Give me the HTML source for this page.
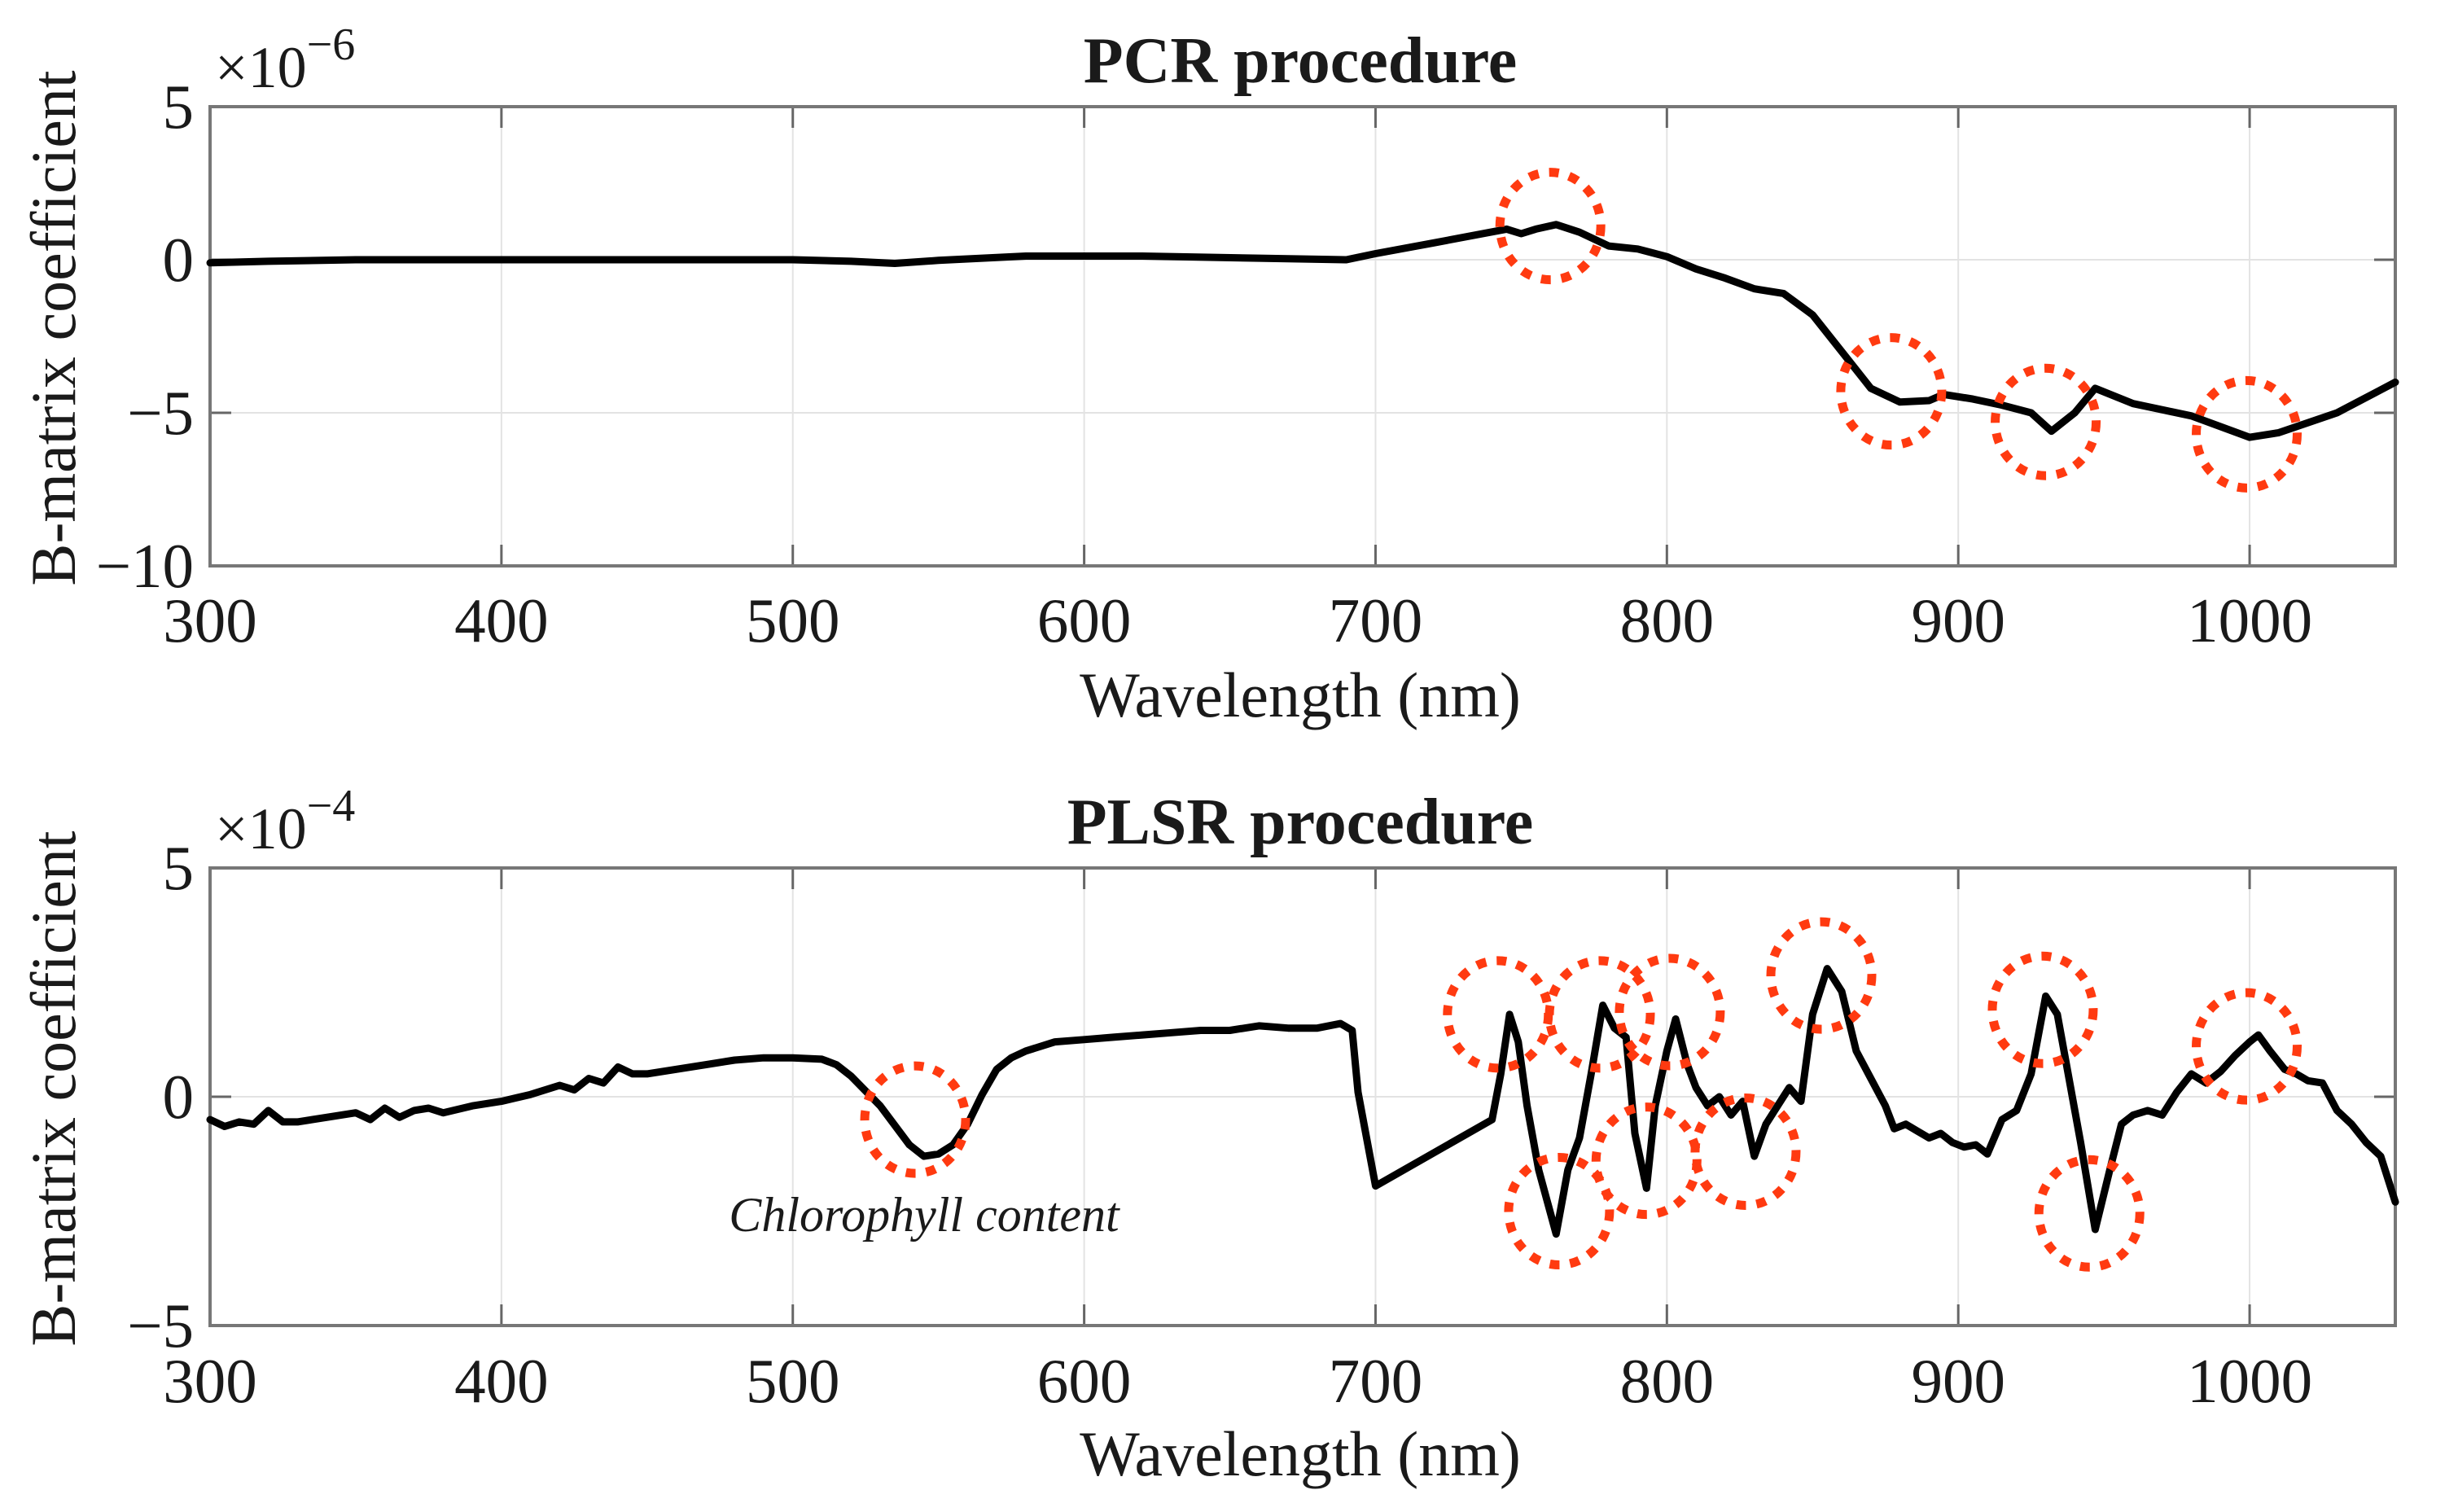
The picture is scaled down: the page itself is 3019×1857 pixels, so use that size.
<!DOCTYPE html>
<html><head><meta charset="utf-8">
<style>
html,body{margin:0;padding:0;background:#fff;}
svg{display:block;}
text{font-family:"Liberation Serif",serif;fill:#1a1a1a;}
</style></head>
<body>
<svg id="chart" width="3019" height="1857" viewBox="0 0 3019 1857" xmlns="http://www.w3.org/2000/svg"></svg>
<script>
// ---- data ----
const xTicks = [300,400,500,600,700,800,900,1000];
const pcrYTicks = [5,0,-5,-10];
const plsrYTicks = [5,0,-5];
const pcrWave = [300,320,350,400,450,500,520,535,550,580,620,660,690,700,720,745,750,755,762,770,780,790,800,810,820,830,840,850,860,870,880,890,895,905,915,925,932,940,947,960,980,1000,1010,1030,1050];
const pcrVal  = [-0.1,-0.05,0,0,0,0,-0.05,-0.12,-0.02,0.12,0.12,0.05,0.0,0.2,0.55,1.0,0.85,1.0,1.15,0.9,0.45,0.35,0.1,-0.3,-0.6,-0.95,-1.1,-1.8,-3.0,-4.2,-4.65,-4.6,-4.4,-4.55,-4.75,-5.0,-5.6,-5.0,-4.2,-4.7,-5.1,-5.8,-5.65,-5.0,-4.0];
const plsrWave = [300,305,310,315,320,325,330,340,350,355,360,365,370,375,380,390,400,410,420,425,430,435,440,445,450,460,470,480,490,500,510,515,520,530,540,545,550,555,560,565,570,575,580,590,600,610,620,630,640,650,660,670,680,688,692,694,700,740,743,746,749,752,756,762,766,770,774,778,782,786,789,793,796,800,803,807,810,814,818,822,826,830,834,838,842,846,850,855,860,865,870,875,878,882,886,890,894,898,902,906,910,915,920,925,930,934,938,942,947,952,956,960,965,970,975,980,985,990,995,1000,1003,1007,1012,1016,1020,1025,1030,1035,1040,1045,1050];
const plsrVal  = [-0.5,-0.65,-0.55,-0.6,-0.3,-0.55,-0.55,-0.45,-0.35,-0.5,-0.25,-0.45,-0.3,-0.25,-0.35,-0.2,-0.1,0.05,0.25,0.15,0.4,0.3,0.65,0.5,0.5,0.6,0.7,0.8,0.85,0.85,0.82,0.7,0.45,-0.2,-1.05,-1.3,-1.25,-1.05,-0.6,0.05,0.6,0.85,1.0,1.2,1.25,1.3,1.35,1.4,1.45,1.45,1.55,1.5,1.5,1.6,1.45,0.1,-1.95,-0.5,0.5,1.8,1.2,-0.2,-1.6,-3.0,-1.6,-0.9,0.5,2.0,1.5,1.3,-0.8,-2.0,-0.2,1.0,1.7,0.7,0.2,-0.2,0.0,-0.4,-0.1,-1.3,-0.6,-0.2,0.2,-0.1,1.8,2.8,2.3,1.0,0.4,-0.2,-0.7,-0.6,-0.75,-0.9,-0.8,-1.0,-1.1,-1.05,-1.25,-0.5,-0.3,0.5,2.2,1.8,0.4,-1.0,-2.9,-1.6,-0.6,-0.4,-0.3,-0.4,0.1,0.5,0.3,0.55,0.9,1.2,1.35,1.0,0.6,0.5,0.35,0.3,-0.3,-0.6,-1.0,-1.3,-2.3];
const pcrCircW = [760,877,930,999];
const pcrCircV = [1.1,-4.3,-5.3,-5.7];
const plsrCircW = [542,742,763,777,801,793,827,853,929,945,999];
const plsrCircV = [-0.5,1.8,-2.5,1.8,1.85,-1.4,-1.2,2.65,1.9,-2.55,1.1];

const NS="http://www.w3.org/2000/svg";
const svg=document.getElementById('chart');
function mk(tag,attrs,parent){const e=document.createElementNS(NS,tag);for(const k in attrs)e.setAttribute(k,attrs[k]);(parent||svg).appendChild(e);return e;}

function panel(cfg){
  const L=258,R=2942,T=cfg.top,B=cfg.bottom;
  const xS=w=>L+(w-300)/(1050-300)*(R-L);
  const yS=v=>T+(cfg.ymax-v)/(cfg.ymax-cfg.ymin)*(B-T);
  const g=mk('g',{});
  
  
  xTicks.forEach(w=>{const l=mk('line',{x1:xS(w),x2:xS(w),y1:T,y2:B,stroke:'#e3e3e3','stroke-width':2},g);
    });
  cfg.yTicks.forEach(v=>{const l=mk('line',{x1:L,x2:R,y1:yS(v),y2:yS(v),stroke:'#e3e3e3','stroke-width':2},g);
    });
  xTicks.forEach(w=>{mk('line',{x1:xS(w),x2:xS(w),y1:B,y2:B-26,stroke:'#666','stroke-width':3},g);mk('line',{x1:xS(w),x2:xS(w),y1:T,y2:T+26,stroke:'#666','stroke-width':3},g);});
  cfg.yTicks.forEach(v=>{mk('line',{x1:L,x2:L+26,y1:yS(v),y2:yS(v),stroke:'#666','stroke-width':3},g);mk('line',{x1:R,x2:R-26,y1:yS(v),y2:yS(v),stroke:'#666','stroke-width':3},g);});
  const fr=mk('rect',{x:L,y:T,width:R-L,height:B-T,fill:'none',stroke:'#777','stroke-width':4},g);
  
  xTicks.forEach(w=>{const t=mk('text',{x:xS(w),y:cfg.xLabY,'font-size':77,'text-anchor':'middle'},g);t.textContent=w;
    });
  cfg.yTicks.forEach(v=>{const t=mk('text',{x:238,y:yS(v)+26,'font-size':77,'text-anchor':'end'},g);t.textContent=v<0?'\u2212'+(-v):String(v);
    });
  const ex=mk('text',{x:264,y:cfg.top-24,'font-size':72},g);
  ex.innerHTML='\u00d710<tspan dy="-34" font-size="56">\u2212'+cfg.exp+'</tspan>';
  
  const ti=mk('text',{x:1597,y:cfg.top-30,'font-size':80,'font-weight':'bold','text-anchor':'middle',fill:'#000'},g);ti.textContent=cfg.title;
  
  const xl=mk('text',{x:1597,y:cfg.xTitleY,'font-size':78,'text-anchor':'middle'},g);xl.textContent='Wavelength (nm)';
  
  const cy=(T+B)/2-10;
  const yl=mk('text',{x:92,y:cy,'font-size':78,'text-anchor':'middle',transform:'rotate(-90 92 '+cy+')'},g);yl.textContent='B-matrix coefficient';
  
  const d=cfg.wave.map((w,i)=>(i?'L':'M')+xS(w).toFixed(1)+' '+yS(cfg.vals[i]).toFixed(1)).join(' ');
  const p=mk('path',{d:d,fill:'none',stroke:'#000','stroke-width':9,'stroke-linejoin':'round','stroke-linecap':'round'},g);
  
  cfg.cw.forEach((w,i)=>{const c=mk('ellipse',{cx:xS(w),cy:yS(cfg.cv[i]),rx:62,ry:66,fill:'none',stroke:'#ff3a10','stroke-width':11,'stroke-dasharray':'12 13'},g);
    });
  return {xS,yS,g};
}
panel({name:'pcr-panel',top:131,bottom:695,ymin:-10,ymax:5,yTicks:pcrYTicks,exp:'6',title:'PCR procedure',xLabY:788,xTitleY:880,wave:pcrWave,vals:pcrVal,cw:pcrCircW,cv:pcrCircV});
const p2=panel({name:'plsr-panel',top:1066,bottom:1628,ymin:-5,ymax:5,yTicks:plsrYTicks,exp:'4',title:'PLSR procedure',xLabY:1722,xTitleY:1812,wave:plsrWave,vals:plsrVal,cw:plsrCircW,cv:plsrCircV});
const an=mk('text',{x:1135,y:1512,'font-size':60,'font-style':'italic','text-anchor':'middle'},p2.g);
an.textContent='Chlorophyll content';


</script>
</body></html>
